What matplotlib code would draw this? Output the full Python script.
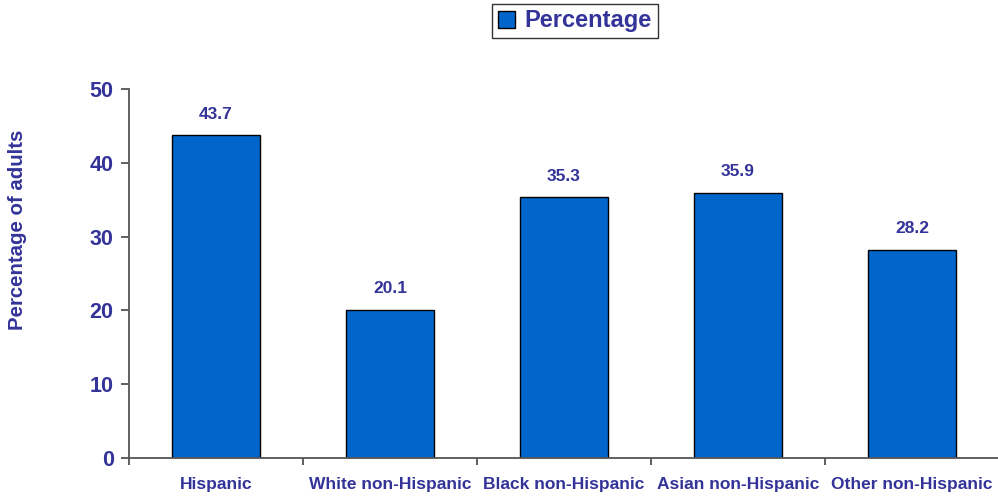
import numpy as np
import matplotlib.pyplot as plt
from matplotlib.patches import Patch

# data
categories = ["Hispanic", "White non-Hispanic", "Black non-Hispanic",
              "Asian non-Hispanic", "Other non-Hispanic"]
values = [43.7, 20.1, 35.3, 35.9, 28.2]
yticks = [0, 10, 20, 30, 40, 50]

TXT = "#333399"
BAR = "#0066CC"

plt.rcParams["font.family"] = ["Liberation Sans", "DejaVu Sans"]
plt.rcParams["font.weight"] = "bold"

fig = plt.figure(figsize=(9.98, 4.97), dpi=100)
ax = fig.add_axes([129 / 998, 1 - 458 / 497, 870 / 998, (458 - 89) / 497])

x = np.arange(len(categories))
bars = ax.bar(x, values, width=0.505, color=BAR, edgecolor="black", linewidth=1.0)

for xi, v in zip(x, values):
    ax.annotate(f"{v:.1f}", (xi, v), xytext=(0, 10), textcoords="offset points",
                ha="center", va="bottom", color=TXT, fontsize=12.5, fontweight="bold")

ax.set_xlim(-0.5, len(categories) - 0.5)
ax.set_ylim(0, 50)
ax.set_yticks(yticks)
ax.set_yticklabels([str(t) for t in yticks], color=TXT, fontsize=15.5, fontweight="bold")

# category labels centred, ticks on boundaries
ax.set_xticks(np.arange(-0.5, len(categories), 1.0))
ax.set_xticklabels([])
ax.set_xticks(x, minor=True)
ax.set_xticklabels(categories, minor=True, color=TXT, fontsize=12.5, fontweight="bold")
ax.tick_params(axis="x", which="minor", length=0, pad=14)
ax.tick_params(axis="x", which="major", length=5, width=1.2, color="#444444")
ax.tick_params(axis="y", length=6, width=1.2, color="#444444", pad=5)

for s in ["top", "right"]:
    ax.spines[s].set_visible(False)
for s in ["left", "bottom"]:
    ax.spines[s].set_color("#555555")
    ax.spines[s].set_linewidth(1.3)

fig.text(0.018, 1 - 230 / 497, "Percentage of adults", rotation=90,
         ha="center", va="center", color=TXT, fontsize=14.7, fontweight="bold")

handle = Patch(facecolor=BAR, edgecolor="black", linewidth=1.0)
leg = fig.legend([handle], ["Percentage"], loc="center", bbox_to_anchor=(575 / 998, 1 - 21 / 497),
                 frameon=True, fancybox=False, fontsize=17, handlelength=0.7, handleheight=0.7,
                 handletextpad=0.4, borderpad=0.25, borderaxespad=0)
leg.get_frame().set_edgecolor("black")
leg.get_frame().set_linewidth(1.0)
for t in leg.get_texts():
    t.set_color(TXT)
    t.set_fontweight("bold")

fig.savefig("out.png", dpi=100)
